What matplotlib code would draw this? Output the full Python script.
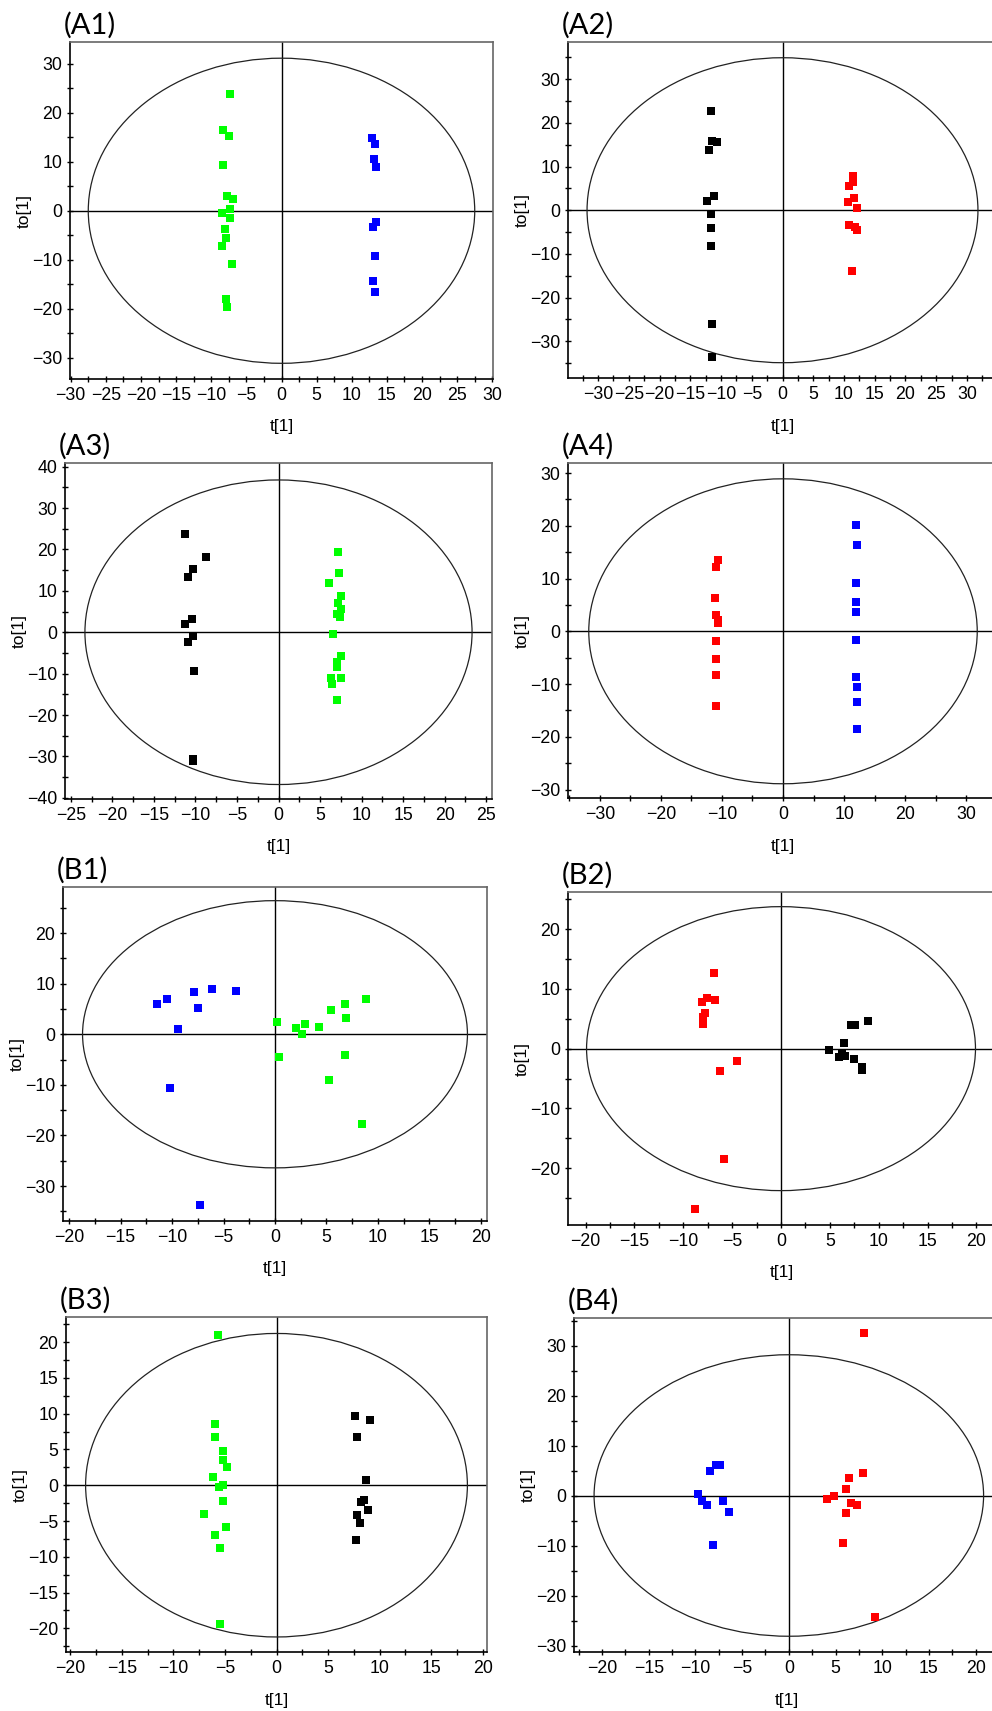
import numpy as np
import matplotlib.pyplot as plt
from matplotlib.patches import Ellipse
from matplotlib.ticker import MultipleLocator

plt.rcParams['font.family'] = ['Liberation Sans', 'DejaVu Sans']

# ---- score values ----
# (A1)
a1_green_t = [-7.4, -8.3, -7.5, -8.3, -7.7, -6.9, -7.4, -8.4, -7.4, -8.0, -7.9, -8.5, -7.0, -7.9, -7.7]
a1_green_to = [23.8, 16.4, 15.2, 9.3, 3.0, 2.4, 0.4, -0.5, -1.4, -3.7, -5.6, -7.1, -10.9, -17.9, -19.6]
a1_blue_t = [12.9, 13.3, 13.1, 13.5, 13.5, 13.0, 13.3, 13.0, 13.3]
a1_blue_to = [14.8, 13.7, 10.6, 8.9, -2.3, -3.3, -9.2, -14.3, -16.5]

# (A2)
a2_black_t = [-11.6, -11.4, -10.6, -12.0, -11.2, -12.3, -11.6, -11.6, -11.7, -11.4, -11.4]
a2_black_to = [22.8, 15.8, 15.7, 13.8, 3.3, 2.1, -0.8, -4.1, -8.1, -26.0, -33.6]
a2_red_t = [11.4, 11.5, 10.9, 11.7, 10.6, 12.2, 10.9, 12.1, 11.8, 11.25]
a2_red_to = [7.9, 6.5, 5.6, 2.7, 1.9, 0.5, -3.4, -4.5, -3.9, -13.8]

# (A3)
a3_black_t = [-11.3, -8.75, -10.3, -10.9, -10.4, -11.2, -10.3, -10.9, -10.2, -10.3, -10.25]
a3_black_to = [23.7, 18.2, 15.4, 13.4, 3.1, 1.9, -0.8, -2.3, -9.3, -30.6, -31.0]
a3_green_t = [7.2, 7.3, 6.1, 7.5, 7.2, 7.5, 7.1, 7.4, 6.6, 7.5, 7.0, 7.1, 6.3, 7.5, 6.5, 7.0]
a3_green_to = [19.5, 14.3, 11.9, 8.8, 7.1, 5.6, 4.3, 3.7, -0.4, -5.8, -7.2, -8.4, -11.0, -11.0, -12.6, -16.4]

# (A4)
a4_red_t = [-10.7, -10.9, -11.1, -10.9, -10.7, -10.7, -10.9, -10.9, -10.9, -10.9]
a4_red_to = [13.5, 12.1, 6.3, 3.0, 2.2, 1.6, -1.9, -5.2, -8.2, -14.1]
a4_blue_t = [11.9, 12.1, 11.9, 11.9, 11.9, 11.9, 11.9, 12.1, 12.1, 12.1]
a4_blue_to = [20.2, 16.4, 9.2, 5.6, 3.6, -1.7, -8.7, -10.5, -13.4, -18.5]

# (B1)
b1_blue_t = [-11.5, -10.45, -9.4, -7.9, -7.5, -6.1, -3.8, -10.2, -7.3]
b1_blue_to = [6.0, 7.0, 1.1, 8.4, 5.1, 8.9, 8.6, -10.6, -33.8]
b1_green_t = [0.16, 0.4, 2.0, 2.6, 2.9, 4.3, 5.45, 5.2, 6.8, 6.9, 6.8, 8.8, 8.5]
b1_green_to = [2.5, -4.5, 1.2, 0.0, 2.0, 1.5, 4.7, -9.0, 5.9, 3.2, -4.1, 7.0, -17.8]

# (B2)
b2_red_t = [-6.9, -8.1, -7.6, -6.75, -7.75, -8.0, -7.95, -4.5, -6.2, -5.8, -8.8]
b2_red_to = [12.7, 7.8, 8.5, 8.2, 6.0, 5.3, 4.1, -2.1, -3.7, -18.5, -26.9]
b2_black_t = [4.95, 6.4, 5.9, 6.5, 6.2, 7.2, 7.6, 8.9, 7.5, 8.3, 8.25]
b2_black_to = [-0.3, 1.0, -1.4, -1.2, -0.8, 4.0, 4.0, 4.6, -1.8, -3.1, -3.5]

# (B3)
b3_green_t = [-5.7, -6.0, -6.0, -5.2, -5.2, -4.8, -6.2, -5.2, -5.6, -5.2, -7.0, -4.9, -6.0, -5.5, -5.5]
b3_green_to = [21.0, 8.5, 6.7, 4.8, 3.5, 2.5, 1.2, 0.1, -0.2, -2.2, -4.0, -5.8, -6.9, -8.8, -19.4]
b3_black_t = [7.6, 9.1, 7.8, 8.7, 8.5, 8.2, 8.9, 7.8, 8.05, 7.7]
b3_black_to = [9.6, 9.1, 6.8, 0.75, -2.0, -2.4, -3.5, -4.1, -5.3, -7.7]

# (B4)
b4_blue_t = [-9.75, -9.3, -8.75, -8.4, -7.8, -7.4, -7.0, -6.4, -8.1]
b4_blue_to = [0.3, -1.1, -1.8, 4.9, 6.2, 6.2, -1.1, -3.3, -9.8]
b4_red_t = [8.1, 4.1, 4.8, 6.1, 6.4, 7.9, 6.7, 7.3, 6.1, 5.8, 9.25]
b4_red_to = [32.5, -0.6, -0.1, 1.3, 3.6, 4.6, -1.4, -1.9, -3.4, -9.5, -24.3]

# Hotelling T2 ellipse half widths (t, to) per panel
a1_ell = (27.5, 31.1)
a2_ell = (31.8, 34.9)
a3_ell = (23.3, 36.8)
a4_ell = (31.8, 28.9)
b1_ell = (18.7, 26.4)
b2_ell = (19.9, 23.75)
b3_ell = (18.5, 21.2)
b4_ell = (20.85, 28.15)

GREEN = '#00ff00'
BLUE = '#0000ff'
RED = '#ff0000'
BLACK = '#000000'

W, H = 992, 1711
fig = plt.figure(figsize=(W / 100, H / 100), dpi=100)


def panel(label, box, xlim, ylim, xstep, ystep, ell, groups):
    l, t, r, b = box
    ax = fig.add_axes([l / W, 1 - b / H, (r - l) / W, (b - t) / H])
    for gx, gy, col in groups:
        ax.plot(gx, gy, 's', color=col, markersize=5.8, markeredgewidth=0, zorder=3)
    ax.add_patch(Ellipse((0, 0), 2 * ell[0], 2 * ell[1], fill=False,
                         edgecolor='#222222', linewidth=0.9, zorder=2))
    ax.axhline(0, color='black', linewidth=1.0, zorder=1)
    ax.axvline(0, color='black', linewidth=1.0, zorder=1)
    ax.set_xlim(xlim)
    ax.set_ylim(ylim)
    ax.xaxis.set_major_locator(MultipleLocator(xstep))
    ax.xaxis.set_minor_locator(MultipleLocator(xstep / 2))
    ax.yaxis.set_major_locator(MultipleLocator(ystep))
    ax.yaxis.set_minor_locator(MultipleLocator(ystep / 2))
    ax.tick_params(which='both', direction='inout', length=5, width=1.0,
                   labelsize=12.8, pad=3)
    for s in ['left', 'bottom']:
        ax.spines[s].set_color('black')
        ax.spines[s].set_linewidth(1.2)
    for s in ['top', 'right']:
        ax.spines[s].set_color('#666666')
        ax.spines[s].set_linewidth(1.2)
    ax.set_xlabel('t[1]', fontsize=12.5, va='center')
    ax.set_ylabel('to[1]', fontsize=12.5, va='center')
    ax.xaxis.set_label_coords(0.5, -48 / (b - t))
    ax.yaxis.set_label_coords(-46 / (r - l), 0.5)
    fig.text((l - 6) / W, 1 - (t - 17) / H, label, fontsize=21,
             family=['Lato', 'DejaVu Sans'], ha='left', va='center')
    return ax


panel('(A1)', (70, 42, 493, 379), (-30.1, 30.1), (-34.3, 34.4), 5, 10, a1_ell,
      [(a1_green_t, a1_green_to, GREEN), (a1_blue_t, a1_blue_to, BLUE)])
panel('(A2)', (568, 42, 997, 378), (-34.9, 34.9), (-38.4, 38.5), 5, 10, a2_ell,
      [(a2_black_t, a2_black_to, BLACK), (a2_red_t, a2_red_to, RED)])
panel('(A3)', (65, 463, 492, 799), (-25.7, 25.7), (-40.3, 40.9), 5, 10, a3_ell,
      [(a3_black_t, a3_black_to, BLACK), (a3_green_t, a3_green_to, GREEN)])
panel('(A4)', (568, 463, 998, 798), (-35.2, 35.2), (-31.6, 31.9), 10, 10, a4_ell,
      [(a4_red_t, a4_red_to, RED), (a4_blue_t, a4_blue_to, BLUE)])
panel('(B1)', (63, 887, 487, 1221), (-20.6, 20.6), (-36.9, 29.1), 5, 10, b1_ell,
      [(b1_blue_t, b1_blue_to, BLUE), (b1_green_t, b1_green_to, GREEN)])
panel('(B2)', (568, 892, 996, 1225), (-21.8, 22.0), (-29.5, 26.2), 5, 10, b2_ell,
      [(b2_red_t, b2_red_to, RED), (b2_black_t, b2_black_to, BLACK)])
panel('(B3)', (66, 1317, 487, 1652), (-20.4, 20.4), (-23.3, 23.5), 5, 5, b3_ell,
      [(b3_green_t, b3_green_to, GREEN), (b3_black_t, b3_black_to, BLACK)])
panel('(B4)', (574, 1318, 999, 1652), (-23.0, 22.5), (-31.3, 35.5), 5, 10, b4_ell,
      [(b4_blue_t, b4_blue_to, BLUE), (b4_red_t, b4_red_to, RED)])

fig.savefig('out.png', dpi=100)
